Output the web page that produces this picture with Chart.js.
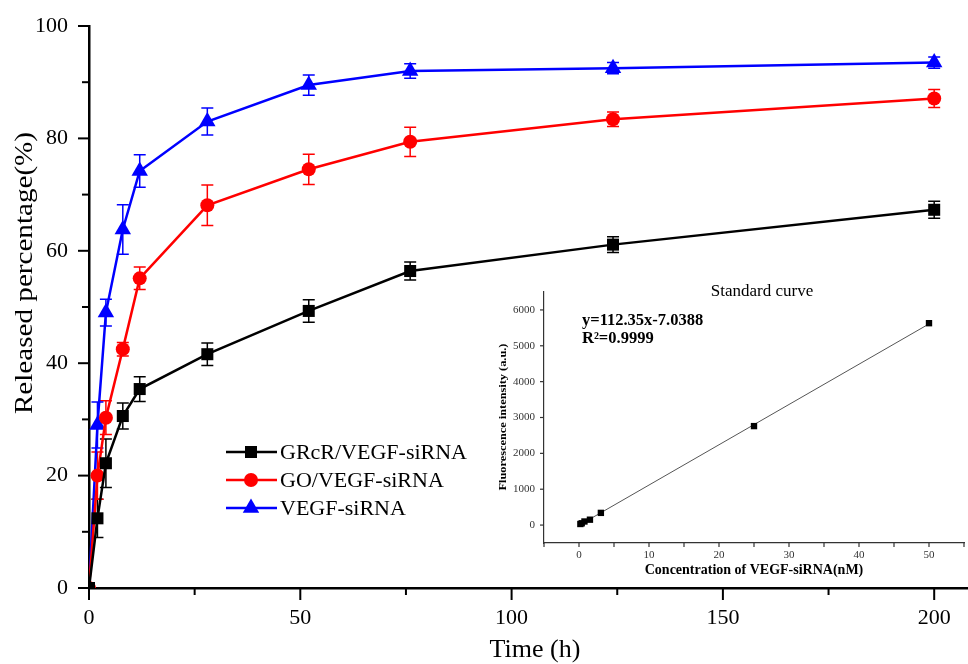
<!DOCTYPE html>
<html><head><meta charset="utf-8">
<script src="https://cdn.jsdelivr.net/npm/chart.js@4/dist/chart.umd.min.js"></script>
<style>
html,body{margin:0;padding:0;background:#fff;}
#wrap{position:relative;width:968px;height:664px;overflow:hidden;}
#wrap canvas{position:absolute;left:0;top:0;}
</style></head><body>
<div id="wrap"><canvas id="main" width="968" height="664"></canvas><canvas id="inset" width="968" height="664"></canvas></div>
<script>
// ---- main chart data ----
const timeHours = [0, 2, 4, 8, 12, 28, 52, 76, 124, 200];
const grcrRelease = [0, 12.4, 22.2, 30.6, 35.4, 41.6, 49.3, 56.4, 61.1, 67.3];
const grcrError   = [0, 3.4, 4.3, 2.3, 2.2, 2.0, 2.0, 1.6, 1.4, 1.5];
const goRelease   = [0, 20.0, 30.3, 42.5, 55.1, 68.1, 74.5, 79.4, 83.4, 87.1];
const goError     = [0, 4.2, 3.0, 1.2, 2.0, 3.6, 2.7, 2.6, 1.3, 1.6];
const sirnaRelease = [0, 29.0, 49.0, 63.8, 74.2, 83.0, 89.5, 92.0, 92.5, 93.5];
const sirnaError   = [0, 4.1, 2.4, 4.4, 2.9, 2.4, 1.8, 1.3, 1.0, 1.0];
const seriesNames = ['GRcR/VEGF-siRNA', 'GO/VEGF-siRNA', 'VEGF-siRNA'];
const xTickLabels = [0, 50, 100, 150, 200];
const yTickLabels = [0, 20, 40, 60, 80, 100];
// ---- inset data ----
const concNM = [0.195, 0.39, 0.78, 1.5625, 3.125, 25, 50];
const fluorIntensity = [30, 50, 100, 150, 340, 2760, 5630];
const fitX = [0, 50];
const fitY = [-7, 5610];
const insetXTickLabels = [0, 10, 20, 30, 40, 50];
const insetYTickLabels = [0, 1000, 2000, 3000, 4000, 5000, 6000];

const SERIF = "'Liberation Serif','Times New Roman',serif";
const colors = ['#000000', '#ff0000', '#0000ff'];
const styles = ['rect', 'circle', 'triangle'];
const radii = [8.5, 7, 9.5];

function mkPoints(xs, ys){ return xs.map((x,i)=>({x:x, y:ys[i]})); }

const tickPlugin = {
  id: 'axisTicks',
  afterDraw(chart, args, opts){
    const ctx = chart.ctx, ca = chart.chartArea;
    ctx.save();
    for (const id of ['x','y']) {
      const s = chart.scales[id], o = opts[id];
      ctx.strokeStyle = o.color; ctx.lineWidth = o.width;
      for (const t of s.ticks) {
        const v = t.value;
        const r = v / o.major;
        const major = Math.abs(r - Math.round(r)) < 1e-6;
        const len = major ? o.len : o.minorLen;
        if (!len) continue;
        ctx.beginPath();
        if (id === 'x') { const px = s.getPixelForValue(v); ctx.moveTo(px, ca.bottom); ctx.lineTo(px, ca.bottom + len); }
        else { const py = s.getPixelForValue(v); ctx.moveTo(ca.left, py); ctx.lineTo(ca.left - len, py); }
        ctx.stroke();
      }
    }
    ctx.restore();
  }
};

const errPlugin = {
  id: 'errbars',
  beforeDatasetsDraw(chart){
    const ctx = chart.ctx, xs = chart.scales.x, ys = chart.scales.y;
    ctx.save();
    ctx.beginPath();
    ctx.rect(chart.chartArea.left, 0, chart.chartArea.right - chart.chartArea.left, chart.chartArea.bottom);
    ctx.clip();
    chart.data.datasets.forEach(ds => {
      if (!ds.errors) return;
      ctx.strokeStyle = ds.borderColor; ctx.lineWidth = 1.5;
      ds.data.forEach((p, j) => {
        const e = ds.errors[j];
        if (!e) return;
        const px = xs.getPixelForValue(p.x);
        const yt = ys.getPixelForValue(p.y + e), yb = ys.getPixelForValue(p.y - e);
        ctx.beginPath();
        ctx.moveTo(px, yt); ctx.lineTo(px, yb);
        ctx.moveTo(px - 6, yt); ctx.lineTo(px + 6, yt);
        ctx.moveTo(px - 6, yb); ctx.lineTo(px + 6, yb);
        ctx.stroke();
      });
    });
    ctx.restore();
  }
};

function drawMarker(ctx, style, x, y, r, color){
  ctx.fillStyle = color;
  ctx.beginPath();
  if (style === 'rect') { const s = r * Math.SQRT1_2; ctx.rect(x - s, y - s, 2*s, 2*s); }
  else if (style === 'circle') { ctx.arc(x, y, r, 0, Math.PI*2); }
  else {
    let a = -Math.PI/2;
    ctx.moveTo(x + Math.cos(a)*r, y + Math.sin(a)*r);
    a += 2*Math.PI/3; ctx.lineTo(x + Math.cos(a)*r, y + Math.sin(a)*r);
    a += 2*Math.PI/3; ctx.lineTo(x + Math.cos(a)*r, y + Math.sin(a)*r);
    ctx.closePath();
  }
  ctx.fill();
}

const mainTexts = {
  id: 'mainTexts',
  afterDraw(chart){
    const ctx = chart.ctx;
    ctx.save();
    ctx.fillStyle = '#000';
    ctx.textAlign = 'center'; ctx.textBaseline = 'middle';
    ctx.font = '26px ' + SERIF;
    ctx.fillText('Time (h)', 535, 650);
    ctx.save();
    ctx.translate(25, 273); ctx.rotate(-Math.PI/2); ctx.scale(1.12, 1);
    ctx.fillText('Released percentage(%)', 0, 0);
    ctx.restore();
    // legend
    const rows = [452, 480, 508];
    ctx.font = '22px ' + SERIF; ctx.textAlign = 'left';
    seriesNames.forEach((n, i) => {
      ctx.strokeStyle = colors[i]; ctx.lineWidth = 2.5;
      ctx.beginPath(); ctx.moveTo(226, rows[i]); ctx.lineTo(277, rows[i]); ctx.stroke();
      drawMarker(ctx, styles[i], 251, rows[i], radii[i], colors[i]);
      ctx.fillStyle = '#000';
      ctx.fillText(n, 280, rows[i] + 1);
    });
    ctx.restore();
  }
};

const seriesVals = [grcrRelease, goRelease, sirnaRelease];
const seriesErrs = [grcrError, goError, sirnaError];

function noPad(s){ s.paddingLeft = 0; s.paddingRight = 0; s.paddingTop = 0; s.paddingBottom = 0; }

new Chart(document.getElementById('main'), {
  type: 'line',
  data: {
    datasets: seriesNames.map((n, i) => ({
      label: n,
      data: mkPoints(timeHours, seriesVals[i]),
      errors: seriesErrs[i],
      borderColor: colors[i], backgroundColor: colors[i],
      pointBackgroundColor: colors[i], pointBorderColor: colors[i],
      borderWidth: 2.5, pointStyle: styles[i], pointRadius: radii[i], pointBorderWidth: 0,
      tension: 0, fill: false
    }))
  },
  options: {
    responsive: false, animation: false, devicePixelRatio: 1,
    layout: { autoPadding: false, padding: { top: 26, right: 0, bottom: 0, left: 0 } },
    plugins: {
      legend: { display: false }, tooltip: { enabled: false },
      axisTicks: {
        x: { major: 50, len: 12, minorLen: 7, color: '#000', width: 2 },
        y: { major: 20, len: 11, minorLen: 7, color: '#000', width: 2 }
      }
    },
    scales: {
      x: {
        type: 'linear', min: 0, max: 208,
        grid: { display: false, drawTicks: true, tickLength: 12 },
        border: { display: true, color: '#000', width: 2.5 },
        ticks: { stepSize: 25, includeBounds: false, autoSkip: false, maxRotation: 0, padding: 5,
          color: '#000', font: { family: SERIF, size: 22 },
          callback: v => xTickLabels.includes(v) ? String(v) : '' },
        afterFit: s => { s.height = 76; noPad(s); }
      },
      y: {
        type: 'linear', min: 0, max: 100,
        grid: { display: false, drawTicks: true, tickLength: 11 },
        border: { display: true, color: '#000', width: 2.5 },
        ticks: { stepSize: 10, includeBounds: false, autoSkip: false, padding: 10,
          color: '#000', font: { family: SERIF, size: 22 },
          callback: v => yTickLabels.includes(v) ? String(v) : '' },
        afterFit: s => { s.width = 89; noPad(s); }
      }
    }
  },
  plugins: [errPlugin, tickPlugin, mainTexts]
});

const insetTexts = {
  id: 'insetTexts',
  afterDraw(chart){
    const ctx = chart.ctx;
    ctx.save();
    ctx.fillStyle = '#000';
    ctx.textAlign = 'center'; ctx.textBaseline = 'middle';
    ctx.font = '17px ' + SERIF;
    ctx.fillText('Standard curve', 762, 292);
    ctx.font = 'bold 14px ' + SERIF;
    ctx.fillText('Concentration of VEGF-siRNA(nM)', 754, 570);
    ctx.save();
    ctx.translate(503, 417); ctx.rotate(-Math.PI/2); ctx.scale(1.12, 1);
    ctx.font = 'bold 11px ' + SERIF;
    ctx.fillText('Fluorescence intensity (a.u.)', 0, 0);
    ctx.restore();
    ctx.textAlign = 'left';
    ctx.font = 'bold 16.5px ' + SERIF;
    ctx.fillText('y=112.35x-7.0388', 582, 321);
    ctx.fillText('R\u00B2=0.9999', 582, 339);
    ctx.restore();
  }
};

new Chart(document.getElementById('inset'), {
  type: 'scatter',
  data: {
    datasets: [
      { type: 'scatter', label: 'points', data: mkPoints(concNM, fluorIntensity),
        pointStyle: 'rect', pointRadius: 4.5, backgroundColor: '#000', borderColor: '#000', pointBorderWidth: 0 },
      { type: 'line', label: 'fit', data: mkPoints(fitX, fitY),
        borderColor: '#555', borderWidth: 1, pointRadius: 0, tension: 0, fill: false }
    ]
  },
  options: {
    responsive: false, animation: false, devicePixelRatio: 1,
    layout: { autoPadding: false, padding: { left: 504, top: 292, right: 4, bottom: 81 } },
    plugins: {
      legend: { display: false }, tooltip: { enabled: false },
      axisTicks: {
        x: { major: 5, len: 4, minorLen: 0, color: '#333', width: 1.2 },
        y: { major: 1000, len: 4, minorLen: 0, color: '#333', width: 1.2 }
      }
    },
    scales: {
      x: {
        type: 'linear', min: -5, max: 55,
        grid: { display: false, drawTicks: true, tickLength: 4 },
        border: { display: true, color: '#333', width: 1.2 },
        ticks: { stepSize: 5, includeBounds: false, autoSkip: false, maxRotation: 0, padding: 2,
          color: '#333', font: { family: SERIF, size: 11 },
          callback: v => insetXTickLabels.includes(v) ? String(v) : '' },
        afterFit: s => { s.height = 40; noPad(s); }
      },
      y: {
        type: 'linear', min: -500, max: 6500,
        grid: { display: false, drawTicks: true, tickLength: 4 },
        border: { display: true, color: '#333', width: 1.2 },
        ticks: { stepSize: 500, includeBounds: false, autoSkip: false, padding: 5,
          color: '#333', font: { family: SERIF, size: 11 },
          callback: v => insetYTickLabels.includes(v) ? String(v) : '' },
        afterFit: s => { s.width = 40; noPad(s); }
      }
    }
  },
  plugins: [tickPlugin, insetTexts]
});
</script>
</body></html>
